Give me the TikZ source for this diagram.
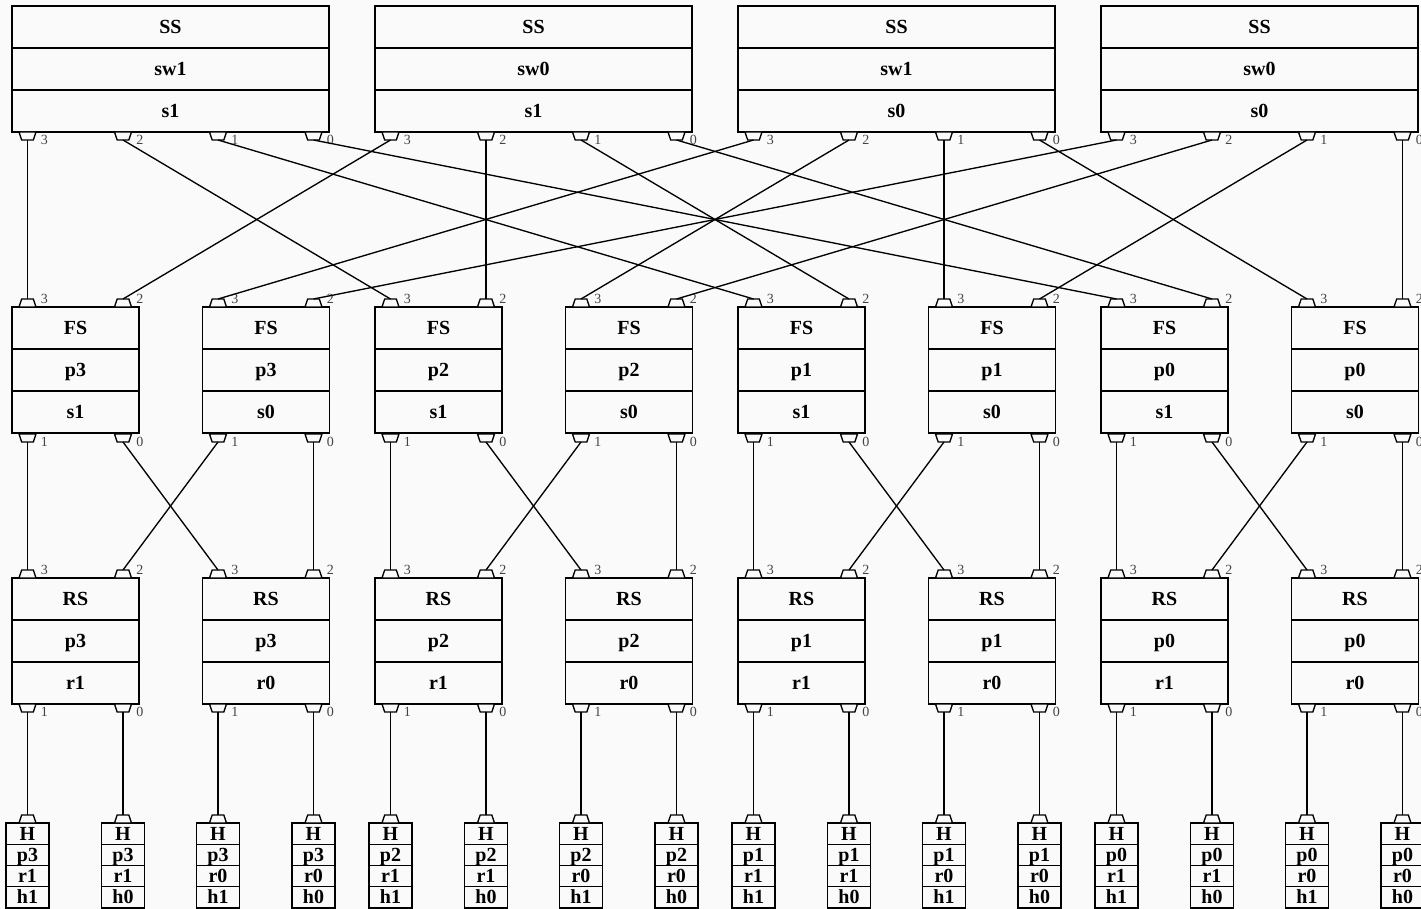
\documentclass[tikz,border=0pt]{standalone}
\usepackage{fontspec}
\setmainfont{Liberation Serif}
\usetikzlibrary{positioning,shapes.geometric}
\definecolor{PageBg}{HTML}{FAFAFA}
\definecolor{PortGray}{HTML}{444444}
\tikzset{
  cell/.style={rectangle,draw=black,line width=1.1pt,inner sep=0pt,outer sep=0pt,
    minimum height=42*0.75pt,text height=9.9pt,text depth=0pt,
    font=\fontsize{15}{17}\selectfont\bfseries},
  hcell/.style={cell,minimum width=43*0.75pt,minimum height=21.25*0.75pt},
  porttab/.style={trapezium,trapezium stretches=true,draw=black,line width=1pt,
    trapezium left angle=65,trapezium right angle=65,
    minimum width=17*0.75pt,minimum height=8*0.75pt,
    inner xsep=1pt,inner ysep=0.5pt,outer sep=0pt,fill=PageBg},
  portup/.style={porttab},
  portdown/.style={porttab,shape border rotate=180},
  portlab/.style={anchor=west,inner sep=0pt,text=PortGray,
    font=\fontsize{10.5}{12}\selectfont},
  link/.style={draw=black,line width=1pt},
}
% switch box of three rows: name, x, y, width, rows
\newcommand{\tribox}[7]{%
  \node[cell,minimum width=#4*0.75pt,anchor=north west] (#1-a) at (#2,#3) {#5};
  \node[cell,minimum width=#4*0.75pt,below=0pt of #1-a] (#1-b) {#6};
  \node[cell,minimum width=#4*0.75pt,below=0pt of #1-b] (#1-c) {#7};
}
% host box: name, x centre, rows
\newcommand{\hostbox}[5]{%
  \node[hcell,anchor=north] (#1-a) at (#2,823) {H};
  \node[hcell,below=0pt of #1-a] (#1-b) {#3};
  \node[hcell,below=0pt of #1-b] (#1-c) {#4};
  \node[hcell,below=0pt of #1-c] (#1-d) {#5};
  \node[portup] (#1-t) at (#2,819) {};
}

\begin{document}
\begin{tikzpicture}[x=0.75pt,y=-0.75pt]
  \path[fill=PageBg,use as bounding box] (0,0) rectangle (1421,909);
  % spine switches
  \foreach \swn/\spn [count=\j from 0] in {1/1,0/1,1/0,0/0}{
    \pgfmathsetmacro\bx{12+363*\j}
    \tribox{ss-sw\swn-s\spn}{\bx}{6}{317}{SS}{sw\swn}{s\spn}
    \foreach \k/\ox in {3/15.5,2/111,1/206,0/301.5}{
      \node[portdown] (ss-sw\swn-s\spn-\k) at (\bx+\ox,136) {};
      \node[portlab] (ss-sw\swn-s\spn-l\k) at (\bx+\ox+13,139.5) {\k};
    }
  }
  % fabric and rack switches
  \foreach \pod [count=\j from 0] in {3,2,1,0}{
    \foreach \spn/\dx in {1/0,0/190.5}{
      \pgfmathsetmacro\bx{12+363*\j+\dx}
      \tribox{fs-p\pod-s\spn}{\bx}{307}{127}{FS}{p\pod}{s\spn}
      \tribox{rs-p\pod-r\spn}{\bx}{578}{127}{RS}{p\pod}{r\spn}
      \foreach \k/\ox in {3/15.5,2/111}{
        \node[portup] (fs-p\pod-s\spn-\k) at (\bx+\ox,303) {};
        \node[portlab] (fs-p\pod-s\spn-l\k) at (\bx+\ox+13,299) {\k};
        \node[portup] (rs-p\pod-r\spn-\k) at (\bx+\ox,574) {};
        \node[portlab] (rs-p\pod-r\spn-l\k) at (\bx+\ox+13,570) {\k};
      }
      \foreach \k/\ox in {1/15.5,0/111}{
        \node[portdown] (fs-p\pod-s\spn-\k) at (\bx+\ox,438) {};
        \node[portlab] (fs-p\pod-s\spn-l\k) at (\bx+\ox+13,441.5) {\k};
        \node[portdown] (rs-p\pod-r\spn-\k) at (\bx+\ox,708) {};
        \node[portlab] (rs-p\pod-r\spn-l\k) at (\bx+\ox+13,711.5) {\k};
        \pgfmathsetmacro\cx{\bx+\ox}
        \hostbox{h-p\pod-r\spn-h\k}{\cx}{p\pod}{r\spn}{h\k}
      }
    }
  }
  % links
  \foreach \swn/\spn in {1/1,0/1,1/0,0/0}{
    \pgfmathtruncatemacro\fp{2+\swn}
    \foreach \k in {3,2,1,0}
      \draw[link] (ss-sw\swn-s\spn-\k.south) -- (fs-p\k-s\spn-\fp.north);
  }
  \foreach \pod in {3,2,1,0}{
    \foreach \spn in {1,0}{
      \pgfmathtruncatemacro\rp{2+\spn}
      \foreach \rak in {1,0}
        \draw[link] (fs-p\pod-s\spn-\rak.south) -- (rs-p\pod-r\rak-\rp.north);
    }
    \foreach \rak in {1,0}
      \foreach \hst in {1,0}
        \draw[link] (rs-p\pod-r\rak-\hst.south) -- (h-p\pod-r\rak-h\hst-t.north);
  }
\end{tikzpicture}
\end{document}
